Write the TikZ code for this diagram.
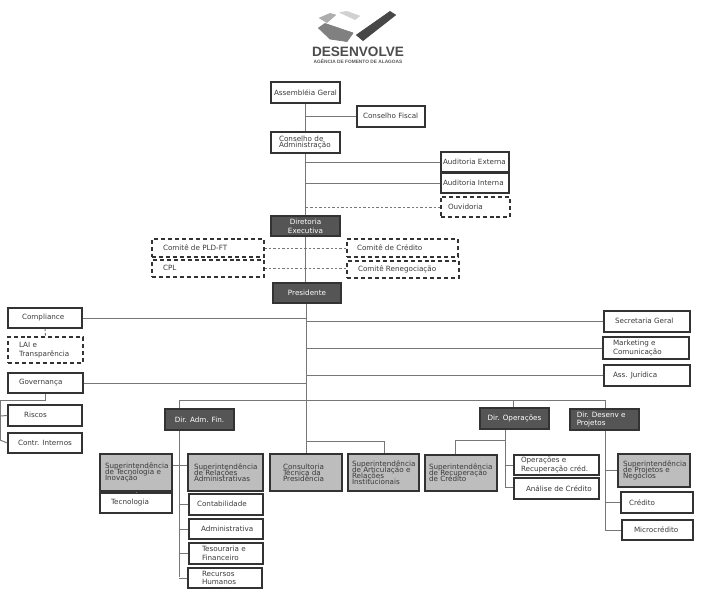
\documentclass[tikz,border=0pt]{standalone}
\usepackage{fontspec}
\setmainfont{DejaVu Sans}
\newfontfamily\logofont{Liberation Sans}
\definecolor{darkbox}{HTML}{555555}
\definecolor{greybox}{HTML}{BDBDBD}
\definecolor{edgecol}{HTML}{333333}
\definecolor{linecol}{HTML}{777777}
\definecolor{txtcol}{HTML}{3A3A3A}
\newcommand\LH{6.5pt}
\newcommand\LR{0pt}
\newcommand\FS{5.4pt}
\tikzset{
  x=0.75pt,y=-0.75pt,
  base/.style={rectangle,draw=edgecol,line width=1.1pt,inner sep=0pt,text=txtcol},
  plainbox/.style={base},
  dashbox/.style={base,line width=0.9pt,dash pattern=on 3pt off 2.2pt},
  darkb/.style={base,fill=darkbox,text=white},
  greyb/.style={base,fill=greybox,execute at begin node={\def\LH{4.4pt}\def\LR{1.6pt}}},
  conn/.style={draw=linecol,line width=0.75pt},
  dconn/.style={draw=linecol,line width=0.7pt,dash pattern=on 1.8pt off 1.5pt},
  logopart/.style={fill=#1,draw=#1,line width=0.6pt,line join=round}
}
% [style]{name}{x1}{y1}{x2}{y2}{left pad}{text}
\newcommand\bx[7][plainbox]{%
  \node[#1,minimum width=\dimexpr #5pt*3/4-#3pt*3/4\relax,minimum height=\dimexpr #6pt*3/4-#4pt*3/4\relax]
    (#2) at ({(#3+#5)/2},{(#4+#6)/2})
    {\makebox[\dimexpr #5pt*3/4-#3pt*3/4\relax][l]{\hspace*{\dimexpr #7pt*3/4\relax}\boxtext}};}
\newcommand\boxtext{}
\newcommand\lines[1]{\raisebox{\LR}{\parbox[c]{3cm}{\raggedright\fontsize{\FS}{\LH}\selectfont\lineskiplimit=-10pt #1}}}
\newcommand\B[8][plainbox]{\renewcommand\boxtext{\lines{#8}}\bx[#1]{#2}{#3}{#4}{#5}{#6}{#7}}
\newcommand\C[7][darkb]{%
  \node[#1,minimum width=\dimexpr #5pt*3/4-#3pt*3/4\relax,minimum height=\dimexpr #6pt*3/4-#4pt*3/4\relax,align=center,font=\fontsize{\FS}{6.5pt}\selectfont]
    (#2) at ({(#3+#5)/2},{(#4+#6)/2}) {#7};}
\begin{document}
\begin{tikzpicture}
\useasboundingbox (0,0) rectangle (702,593);
% logo
\fill[logopart={black!72}] (390,11.5) -- (395.5,15) -- (363,40.5) -- (356.5,35) -- cycle;
\fill[logopart={black!50}] (318.5,28) -- (325,23.5) -- (353,33) -- (347,41.5) -- (330,39) -- cycle;
\fill[logopart={black!32}] (319.5,18) -- (330,13.5) -- (335.5,15) -- (327,22.5) -- cycle;
\fill[logopart={black!18}] (340,12.5) -- (347,11.5) -- (359.5,16) -- (355,19.5) -- cycle;
\node[inner sep=0pt,text=black!70,font=\logofont\bfseries\fontsize{10.2pt}{11pt}\selectfont] (logoname) at (358,52) {DESENVOLVE};
\node[inner sep=0pt,text=black!65,font=\logofont\bfseries\fontsize{3.6pt}{4pt}\selectfont] (logosub) at (358,61) {AGÊNCIA DE FOMENTO DE ALAGOAS};
% boxes
\B{asm}{271}{82}{340}{103}{3}{Assembléia Geral}
\B{fis}{357}{106}{425}{127}{6}{Conselho Fiscal}
\B[plainbox,execute at begin node={\def\LH{5pt}\def\LR{0.6pt}}]{adm}{271}{132}{340}{153}{8}{Conselho de\\Administração}
\B{aext}{441}{152}{509}{172}{2}{Auditoria Externa}
\B{aint}{441}{173}{509}{193}{2}{Auditoria Interna}
\B[dashbox]{ouv}{441}{197}{510}{217}{7}{Ouvidoria}
\C{dire}{271}{216}{340}{236}{Diretoria\\Executiva}
\B[dashbox]{pld}{152}{239}{264}{257}{11}{Comitê de PLD-FT}
\B[dashbox]{cpl}{152}{260}{264}{277}{11}{CPL}
\B[dashbox]{ccr}{347}{239}{458}{257}{10}{Comitê de Crédito}
\B[dashbox]{cre}{347}{261}{459}{278}{11}{Comitê Renegociação}
\C{pres}{273}{283}{341}{303}{Presidente}
\B{comp}{8}{308}{82}{328}{14}{Compliance}
\B[dashbox]{lai}{8}{337}{83}{363}{11}{LAI e\\Transparência}
\B{gov}{8}{373}{83}{393}{11}{Governança}
\B{ris}{8}{405}{82}{426}{16}{Riscos}
\B{ctr}{8}{433}{82}{453}{10}{Contr. Internos}
\B{sec}{604}{311}{690}{332}{11}{Secretaria Geral}
\B{mkt}{603}{337}{689}{359}{10}{Marketing e\\Comunicação}
\B{ass}{604}{365}{690}{386}{9}{Ass. Jurídica}
\C{dadm}{165}{409}{234}{430}{Dir. Adm. Fin.}
\C{dop}{480}{408}{549}{429}{Dir. Operações}
\node[darkb,minimum width=51.75pt,minimum height=15.75pt,align=left,font=\fontsize{\FS}{6.5pt}\selectfont] (ddes) at (604.5,419.5) {Dir. Desenv e\\Projetos\hspace*{20pt}};
\B[greyb]{stec}{100}{454}{172}{491}{5}{Superintendência\\de Tecnologia e\\Inovação}
\B[greyb]{srel}{188}{454}{263}{491}{6}{Superintendência\\de Relações\\Administrativas}
\B[greyb]{cons}{270}{454}{342}{491}{13}{Consultoria\\Técnica da\\Presidência}
\B[greyb]{sart}{348}{454}{419}{491}{4}{Superintendência\\de Articulação e\\Relações\\Institucionais}
\B[greyb]{srec}{425}{455}{497}{491}{4}{Superintendência\\de Recuperação\\de Crédito}
\B[greyb]{spro}{618}{454}{690}{487}{5}{Superintendência\\de Projetos e\\Negócios}
\B{tec}{100}{493}{172}{513}{11}{Tecnologia}
\B{cont}{189}{494}{263}{515}{8}{Contabilidade}
\B{admv}{189}{519}{263}{539}{12}{Administrativa}
\B{tes}{189}{543}{263}{564}{13}{Tesouraria e\\Financeiro}
\B{rh}{188}{568}{262}{588}{14}{Recursos\\Humanos}
\B{oper}{514}{455}{599}{475}{7}{Operações e\\Recuperação créd.}
\B{anal}{514}{478}{599}{499}{12}{Análise de Crédito}
\B{cred}{621}{492}{693}{513}{8}{Crédito}
\B{micro}{622}{520}{693}{540}{12}{Microcrédito}
% free ends of connectors
\coordinate (hub) at (306,400);
\coordinate (govl) at (0,400);
\coordinate (risl) at (0,416);
\coordinate (ctrl) at (0,440);
\coordinate (artb) at (384,441);
\coordinate (recb) at (505,440);
\coordinate (admb) at (179,577);
\coordinate (opb) at (505,487);
\coordinate (desb) at (605,530);
% trunk
\draw[conn] (asm.south) -- (adm.north);
\draw[conn] (adm.south) -- (dire.north);
\draw[conn] (dire.south) -- (pres.north -| dire.south);
\draw[conn] (pres.south -| hub) -- (hub);
\draw[conn] (hub) -- (cons.north -| hub);
\draw[conn] (fis.west) -- (fis.west -| asm.south);
\draw[conn] (aext.west) -- (aext.west -| adm.south);
\draw[conn] (aint.west) -- (aint.west -| adm.south);
\draw[dconn] (ouv.west) -- (ouv.west -| adm.south);
\draw[dconn] (pld.east) -- (pld.east -| ccr.west);
\draw[dconn] (cpl.east) -- (cpl.east -| cre.west);
% president row
\draw[conn] (comp.east) -- (comp.east -| hub);
\draw[conn] (gov.east) -- (gov.east -| hub);
\draw[dconn] (comp.south) -- (lai.north);
\draw[conn] (sec.west) -- (sec.west -| hub);
\draw[conn] (mkt.west) -- (mkt.west -| hub);
\draw[conn] (ass.west) -- (ass.west -| hub);
\draw[conn] (gov.south) |- (govl);
\draw[conn] (govl) -- (ctrl);
\draw[conn] (risl) -- (ris.west);
\draw[conn] (ctrl) -- (ctr.west);
% directors
\draw[conn] (dadm.north -| admb) |- (hub) -| (ddes.north -| desb);
\draw[conn] (hub -| recb) ++(8,0) -- (dop.north -| 513,0);
% Dir. Adm. Fin.
\draw[conn] (dadm.south -| admb) -- (admb);
\draw[conn] (stec.east |- 0,465) -- (srel.west |- 0,465);
\draw[conn] (stec.south) -- (tec.north);
\draw[conn] (cont.west) -- (cont.west -| admb);
\draw[conn] (admv.west) -- (admv.west -| admb);
\draw[conn] (tes.west) -- (tes.west -| admb);
\draw[conn] (rh.west) -- (rh.west -| admb);
% Consultoria
\draw[conn] (artb -| hub) -- (artb) -- (sart.north -| artb);
% Dir. Operacoes
\draw[conn] (dop.south -| opb) -- (opb);
\draw[conn] (recb) -| ([xshift=-4.5pt]srec.north);
\draw[conn] (oper.west) -- (oper.west -| opb);
\draw[conn] (opb) -- (opb -| anal.west);
% Dir. Desenv
\draw[conn] (ddes.south -| desb) -- (desb);
\draw[conn] (spro.west) -- (spro.west -| desb);
\draw[conn] (cred.west) -- (cred.west -| desb);
\draw[conn] (micro.west) -- (micro.west -| desb);
\end{tikzpicture}
\end{document}
